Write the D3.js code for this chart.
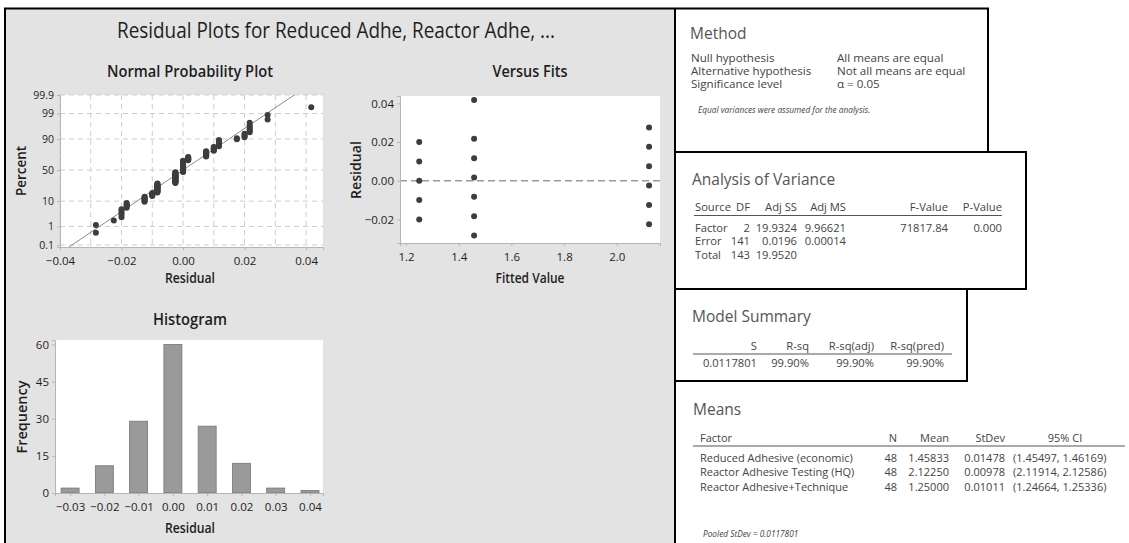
<!DOCTYPE html>
<html><head><meta charset="utf-8">
<script src="https://cdn.jsdelivr.net/npm/d3@7"></script>
<style>body{margin:0;background:#fff}svg{display:block}</style>
</head><body><svg id="c" width="1129" height="543"></svg>
<script>
// ---------------- data ----------------
const fitValues = [1.25, 1.45833, 2.1225];
const residLow  = [-0.02, -0.01, 0, 0.01, 0.02];
const countLow  = [5, 5, 27, 7, 4];
const residMid  = [-0.02833, -0.01833, -0.00833, 0.00167, 0.01167, 0.02167, 0.04167];
const countMid  = [2, 5, 17, 8, 9, 6, 1];
const residHigh = [-0.0225, -0.0125, -0.0025, 0.0075, 0.0175, 0.0275];
const countHigh = [1, 7, 25, 11, 2, 2];

const histCenters = [-0.03, -0.02, -0.01, 0.00, 0.01, 0.02, 0.03, 0.04];
const histFreq    = [2, 11, 29, 60, 27, 12, 2, 1];

const nppXTicks   = [-0.04, -0.02, 0.00, 0.02, 0.04];
const nppPctTicks = [0.1, 1, 10, 50, 90, 99, 99.9];
const fitXTicks   = [1.2, 1.4, 1.6, 1.8, 2.0];
const fitYTicks   = [-0.02, 0.00, 0.02, 0.04];
const histYTicks  = [0, 15, 30, 45, 60];

const methodRows = [["Null hypothesis", "All means are equal"],
                    ["Alternative hypothesis", "Not all means are equal"],
                    ["Significance level", "α = 0.05"]];
const anovaHeader = ["Source", "DF", "Adj SS", "Adj MS", "F-Value", "P-Value"];
const anovaRows = [["Factor", "2", "19.9324", "9.96621", "71817.84", "0.000"],
                   ["Error", "141", "0.0196", "0.00014", "", ""],
                   ["Total", "143", "19.9520", "", "", ""]];
const summaryHeader = ["S", "R-sq", "R-sq(adj)", "R-sq(pred)"];
const summaryRow    = ["0.0117801", "99.90%", "99.90%", "99.90%"];
const meansHeader = ["Factor", "N", "Mean", "StDev", "95% CI"];
const meansRows = [["Reduced Adhesive (economic)", "48", "1.45833", "0.01478", "(1.45497, 1.46169)"],
                   ["Reactor Adhesive Testing (HQ)", "48", "2.12250", "0.00978", "(2.11914, 2.12586)"],
                   ["Reactor Adhesive+Technique", "48", "1.25000", "0.01011", "(1.24664, 1.25336)"]];

// ---------------- helpers ----------------
function probit(p){
  const a=[-3.969683028665376e+01,2.209460984245205e+02,-2.759285104469687e+02,1.383577518672690e+02,-3.066479806614716e+01,2.506628277459239e+00];
  const b=[-5.447609879822406e+01,1.615858368580409e+02,-1.556989798598866e+02,6.680131188771972e+01,-1.328068155288572e+01];
  const c=[-7.784894002430293e-03,-3.223964580411365e-01,-2.400758277161838e+00,-2.549732539343734e+00,4.374664141464968e+00,2.938163982698783e+00];
  const d=[7.784695709041462e-03,3.224671290700398e-01,2.445134137142996e+00,3.754408661907416e+00];
  const pl=0.02425, ph=1-pl; let q,r;
  if(p<pl){q=Math.sqrt(-2*Math.log(p));return (((((c[0]*q+c[1])*q+c[2])*q+c[3])*q+c[4])*q+c[5])/((((d[0]*q+d[1])*q+d[2])*q+d[3])*q+1);}
  if(p<=ph){q=p-0.5;r=q*q;return (((((a[0]*r+a[1])*r+a[2])*r+a[3])*r+a[4])*r+a[5])*q/(((((b[0]*r+b[1])*r+b[2])*r+b[3])*r+b[4])*r+1);}
  q=Math.sqrt(-2*Math.log(1-p));return -(((((c[0]*q+c[1])*q+c[2])*q+c[3])*q+c[4])*q+c[5])/((((d[0]*q+d[1])*q+d[2])*q+d[3])*q+1);
}
function expand(vals, counts, fit){ const out=[]; vals.forEach((v,i)=>{for(let k=0;k<counts[i];k++) out.push({fit, r:v});}); return out; }
const allPts = [].concat(expand(residLow,countLow,fitValues[0]), expand(residMid,countMid,fitValues[1]), expand(residHigh,countHigh,fitValues[2]));
const sortedRes = allPts.map(d=>d.r).sort((a,b)=>a-b);
const N = sortedRes.length;
const nppPts = sortedRes.map((r,i)=>({r, z: probit((i+1-0.3)/(N+0.4))}));
const resMean = d3.mean(sortedRes), resSd = d3.deviation(sortedRes);
const fitPts = [];
[[residLow,0],[residMid,1],[residHigh,2]].forEach(([arr,i])=>arr.forEach(r=>fitPts.push({fit:fitValues[i], r})));

const svg = d3.select("#c");
const LF = "'Open Sans', 'Noto Sans', sans-serif";
const DOT = "#3d3d3d", GRID = "#cdcdcd", AX = "#b5b5b5", TXT = "#1e1e1e";

// ---------------- panels / borders ----------------
svg.append("rect").attr("x",4).attr("y",8).attr("width",671).attr("height",540).attr("fill","#e3e3e3");
const bl = (x1,y1,x2,y2)=>svg.append("line").attr("x1",x1).attr("y1",y1).attr("x2",x2).attr("y2",y2).attr("stroke","#000").attr("stroke-width",2);

function label(g, x, y, s, size, w, len, anchor, rot){
  const t = g.append("text").attr("font-family",LF).attr("font-size",size).attr("font-weight",w).attr("fill",TXT)
    .attr("text-anchor",anchor||"middle").text(s);
  if(rot){ t.attr("transform",`translate(${x},${y}) rotate(-90)`); } else { t.attr("x",x).attr("y",y); }
  if(len){ t.attr("textLength",len).attr("lengthAdjust","spacingAndGlyphs"); }
  return t;
}
function styleAxis(g){
  g.select(".domain").attr("stroke",AX);
  g.selectAll(".tick line").attr("stroke",AX);
  g.selectAll(".tick text").attr("font-family",LF).attr("font-size",11.5).attr("fill",TXT);
}

const left = svg.append("g");
label(left, 336, 38, "Residual Plots for Reduced Adhe, Reactor Adhe, ...", 22, 500, 438);

// ---------------- Normal probability plot ----------------
{
  const x = d3.scaleLinear().domain([-0.04, 0.0455]).range([60, 323]);
  const y = d3.scaleLinear().domain([-3.17, 3.09]).range([247, 95]);
  const g = left.append("g");
  g.append("rect").attr("x",60).attr("y",95).attr("width",263).attr("height",152).attr("fill","#fff");
  g.append("defs").append("clipPath").attr("id","nppclip").append("rect").attr("x",60).attr("y",95).attr("width",263).attr("height",152);
  g.selectAll(".vg").data(d3.range(-4,5).map(k=>k/100)).join("line")
    .attr("x1",d=>x(d)).attr("x2",d=>x(d)).attr("y1",95).attr("y2",247)
    .attr("stroke",GRID).attr("stroke-dasharray","5,4");
  g.selectAll(".hg").data(nppPctTicks).join("line")
    .attr("x1",60).attr("x2",323).attr("y1",d=>y(probit(d/100))).attr("y2",d=>y(probit(d/100)))
    .attr("stroke",GRID).attr("stroke-dasharray","5,4");
  const zr = y.domain();
  g.append("line").attr("clip-path","url(#nppclip)")
    .attr("x1",x(resMean+resSd*zr[0])).attr("y1",y(zr[0])).attr("x2",x(resMean+resSd*zr[1])).attr("y2",y(zr[1]))
    .attr("stroke","#8a8a8a").attr("stroke-width",1);
  g.selectAll("circle").data(nppPts).join("circle")
    .attr("cx",d=>x(d.r)).attr("cy",d=>y(d.z)).attr("r",3).attr("fill",DOT);
  const xa = g.append("g").attr("transform","translate(0,247)")
    .call(d3.axisBottom(x).tickValues(nppXTicks).tickFormat(d3.format(".2f")).tickSize(3));
  styleAxis(xa); xa.selectAll(".tick text").attr("dy","1.05em");
  const ya = g.append("g").attr("transform","translate(60,0)")
    .call(d3.axisLeft(d3.scaleLinear().domain(y.domain()).range(y.range())).tickValues(nppPctTicks.map(p=>probit(p/100)))
      .tickFormat((d,i)=>String(nppPctTicks[i])).tickSize(3));
  styleAxis(ya); ya.selectAll(".tick text").attr("font-size",10.5).attr("x",-6);
  label(left, 190, 77, "Normal Probability Plot", 16, 600, 166);
  label(left, 26, 171, "Percent", 14, 600, 50, "middle", true);
  label(left, 190, 283, "Residual", 13.5, 600, 50);
}

// ---------------- Versus fits ----------------
{
  const x = d3.scaleLinear().domain([1.177, 2.164]).range([400, 660]);
  const y = d3.scaleLinear().domain([-0.0322, 0.0438]).range([243, 96]);
  const g = left.append("g");
  g.append("rect").attr("x",400).attr("y",96).attr("width",260).attr("height",147).attr("fill","#fff");
  g.append("line").attr("x1",400).attr("x2",660).attr("y1",y(0)).attr("y2",y(0))
    .attr("stroke","#9a9a9a").attr("stroke-width",1.5).attr("stroke-dasharray","7,4");
  g.selectAll("circle").data(fitPts).join("circle")
    .attr("cx",d=>x(d.fit)).attr("cy",d=>y(d.r)).attr("r",3).attr("fill",DOT);
  const xa = g.append("g").attr("transform","translate(0,243)")
    .call(d3.axisBottom(x).tickValues(fitXTicks).tickFormat(d3.format(".1f")).tickSize(3));
  styleAxis(xa); xa.selectAll(".tick text").attr("dy","1.05em");
  const ya = g.append("g").attr("transform","translate(400,0)")
    .call(d3.axisLeft(y).tickValues(fitYTicks).tickFormat(d3.format(".2f")).tickSize(3));
  styleAxis(ya); ya.selectAll(".tick text").attr("x",-6);
  label(left, 530, 77, "Versus Fits", 16, 600, 75);
  label(left, 361, 170, "Residual", 14, 600, 58, "middle", true);
  label(left, 530, 283, "Fitted Value", 13.5, 600, 69);
}

// ---------------- Histogram ----------------
{
  const x = d3.scaleLinear().domain([-0.0344, 0.0438]).range([55, 323]);
  const y = d3.scaleLinear().domain([0, 61.8]).range([493, 340]);
  const g = left.append("g");
  g.append("rect").attr("x",55).attr("y",340).attr("width",268).attr("height",153).attr("fill","#fff");
  const bw = 18;
  g.selectAll("rect.bar").data(histCenters.map((c,i)=>({c,f:histFreq[i]}))).join("rect").attr("class","bar")
    .attr("x",d=>x(d.c)-bw/2).attr("width",bw).attr("y",d=>y(d.f)).attr("height",d=>y(0)-y(d.f))
    .attr("fill","#9a9a9a").attr("stroke","#767676").attr("stroke-width",0.8);
  const xa = g.append("g").attr("transform","translate(0,493)")
    .call(d3.axisBottom(x).tickValues(histCenters).tickFormat(d3.format(".2f")).tickSize(3));
  styleAxis(xa); xa.selectAll(".tick text").attr("dy","1.05em");
  const ya = g.append("g").attr("transform","translate(55,0)")
    .call(d3.axisLeft(y).tickValues(histYTicks).tickSize(3));
  styleAxis(ya); ya.selectAll(".tick text").attr("x",-6);
  label(left, 190, 325, "Histogram", 16, 600, 74);
  label(left, 27, 417, "Frequency", 14, 600, 73, "middle", true);
  label(left, 190, 533, "Residual", 13.5, 600, 50);
}

// ---------------- Right-hand tables ----------------
const RF = "'Open Sans', 'Noto Sans', sans-serif", BODY = "#444", HEAD = "#555";
const right = svg.append("g").attr("font-family",RF);
function rt(x, y, s, opt){
  opt = opt||{};
  return right.append("text").attr("x",x).attr("y",y).attr("font-size",opt.size||11)
    .attr("fill",opt.fill||BODY).attr("text-anchor",opt.anchor||"start")
    .attr("font-style",opt.italic?"italic":"normal").text(s);
}
// Method
rt(690, 39, "Method", {size:15.5, fill:HEAD});
methodRows.forEach((r,i)=>{ rt(691, 62+i*13, r[0], {size:11.6}); rt(837, 62+i*13, r[1], {size:11.6}); });
rt(698, 113, "Equal variances were assumed for the analysis.", {size:8.3, italic:true});
// ANOVA
rt(692, 185, "Analysis of Variance", {size:15.5, fill:HEAD});
const anovaX = [695, 750, 797, 846, 948, 1002];
anovaHeader.forEach((h,j)=> rt(anovaX[j], 211, h, {size:11.2, anchor: j===0?"start":"end"}));
right.append("line").attr("x1",694).attr("x2",1002).attr("y1",215.5).attr("y2",215.5).attr("stroke","#555").attr("stroke-width",1);
anovaRows.forEach((r,i)=> r.forEach((s,j)=>{ if(s) rt(anovaX[j], 232+i*13.3, s, {size:11.2, anchor: j===0?"start":"end"}); }));
// Model summary
rt(692, 322, "Model Summary", {size:15.5, fill:HEAD});
const sumX = [757, 809, 874, 944];
summaryHeader.forEach((h,j)=> rt(sumX[j], 350, h, {size:11.2, anchor:"end"}));
right.append("line").attr("x1",693).attr("x2",952).attr("y1",354).attr("y2",354).attr("stroke","#555").attr("stroke-width",1);
summaryRow.forEach((s,j)=> rt(sumX[j], 367, s, {size:11.2, anchor:"end"}));
// Means
rt(693, 415, "Means", {size:15.5, fill:HEAD});
const meansX = [700, 897, 949, 1005, 1065];
const meansA = ["start","end","end","end","middle"];
meansHeader.forEach((h,j)=> rt(meansX[j], 442, h, {size:11, anchor:meansA[j]}));
right.append("line").attr("x1",693).attr("x2",1125).attr("y1",446).attr("y2",446).attr("stroke","#555").attr("stroke-width",1);
meansRows.forEach((r,i)=> r.forEach((s,j)=> rt(j===4?1013:meansX[j], 462+i*14.4, s, {size:11, anchor: j===4?"start":meansA[j]})));
rt(703, 537, "Pooled StDev = 0.0117801", {size:8.3, italic:true});

// borders
bl(5,8,5,543);
bl(4,8.5,989,8.5);
bl(675,8,675,543);
bl(988,8,988,153);
bl(675,152,1027,152);
bl(1026,152,1026,290);
bl(675,289,1027,289);
bl(967,289,967,382);
bl(675,381,968,381);
</script></body></html>
